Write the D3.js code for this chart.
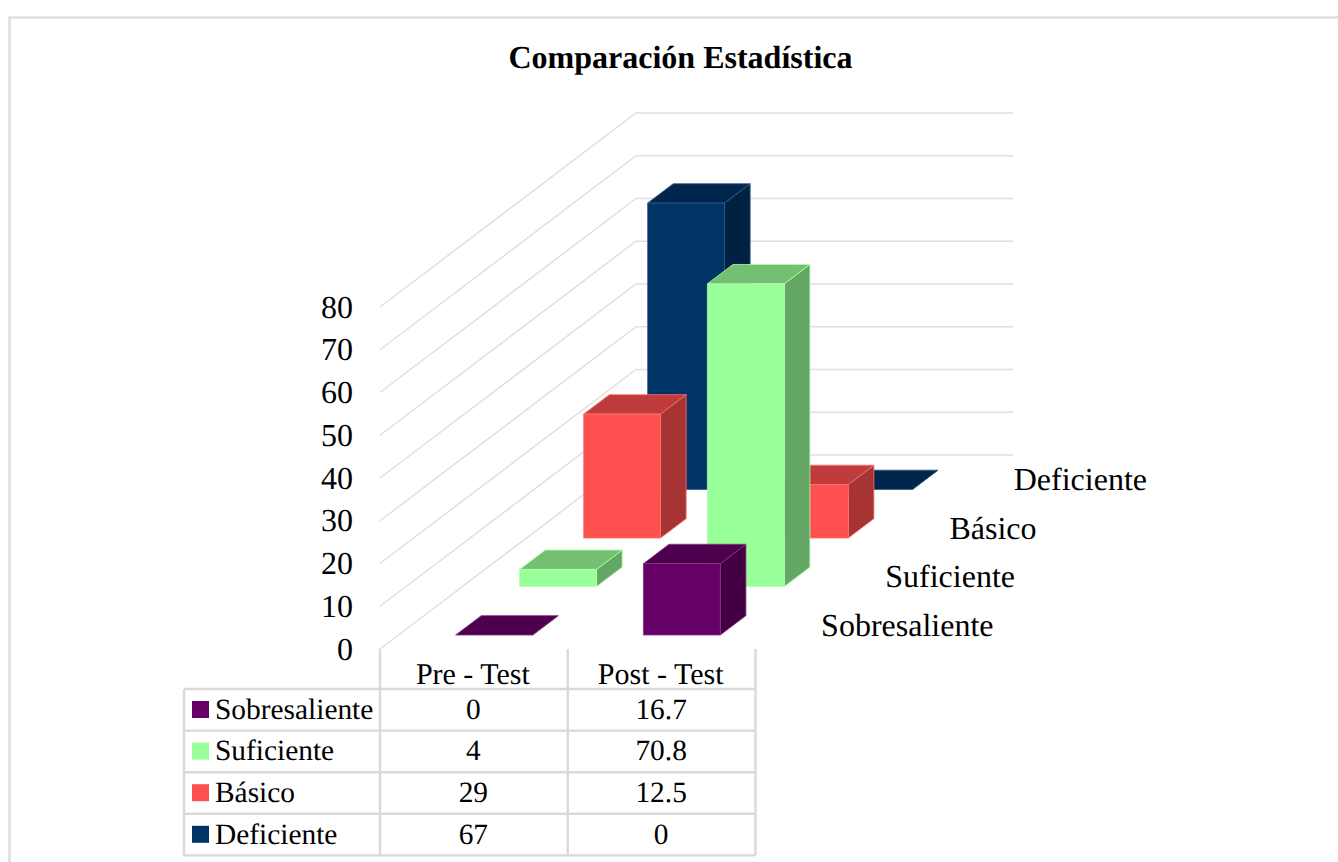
<!DOCTYPE html>
<html><head><meta charset="utf-8">
<script src="https://cdn.jsdelivr.net/npm/d3@7/dist/d3.min.js"></script>
<style>html,body{margin:0;padding:0;background:#fff}svg{display:block}text{font-family:"Liberation Serif",serif;fill:#000;text-rendering:geometricPrecision}</style>
</head><body><svg id="c" width="1338" height="862"></svg>
<script>
const title = "Comparación Estadística";
const groups = ["Pre - Test", "Post - Test"];
const seriesNames = ["Sobresaliente", "Suficiente", "Básico", "Deficiente"];
const preValues = [0, 4, 29, 67];
const postValues = [16.7, 70.8, 12.5, 0];
const colors = ["#660066", "#99ff99", "#ff5050", "#003366"];
const yTicks = [0, 10, 20, 30, 40, 50, 60, 70, 80];

const svg = d3.select("#c");
const grey = "#d9d9d9";
const x0 = 380, x1 = 755.5, floorY = 649;
const depthX = 256, depthY = 194, backRight = 1013;

const x = d3.scaleBand().domain(groups).range([x0 + 1.8, x1 + 1.8]).paddingInner(0.5904).paddingOuter(0.2952);
const xCell = d3.scaleBand().domain(groups).range([x0, x1]);
const z = d3.scaleBand().domain(seriesNames).range([-0.003, 0.997]).paddingInner(0.6).paddingOuter(0.3);
const y = d3.scaleLinear().domain([0, 80]).range([0, 342]);
const P = (px, v, d) => [px + d * depthX, floorY - d * depthY - y(v)];
const poly = pts => pts.map(p => p.join(",")).join(" ");

svg.append("path").attr("d", "M9.5,862V17.5H1338").attr("fill", "none").attr("stroke", "#dedede").attr("stroke-width", 2.5);

svg.append("text").attr("x", 680.5).attr("y", 68).attr("text-anchor", "middle")
  .attr("font-size", 32).attr("font-weight", "bold").text(title);

const grid = svg.append("g").attr("stroke", "#e0e0e0").attr("stroke-width", 1.5).attr("fill", "none");
yTicks.forEach(t => {
  const a = P(x0, t, 0), b = P(x0, t, 1);
  grid.append("polyline").attr("points", poly([a, b, [backRight, b[1]]]));
});

svg.append("g").selectAll("text").data(yTicks).join("text")
  .attr("x", 353).attr("y", t => P(x0, t, 0)[1] + 10.7).attr("text-anchor", "end")
  .attr("font-size", 32).text(d => d);

const rows = seriesNames.map((s, i) => ({ s, i })).reverse();
const barsG = svg.append("g");
rows.forEach(({ s, i }) => {
  groups.forEach((g, gi) => {
    const v = (gi === 0 ? preValues : postValues)[i];
    const l = x(g), r = l + x.bandwidth();
    const d0 = z(s), d1 = d0 + z.bandwidth();
    const c = d3.color(colors[i]);
    const bar = barsG.append("g").attr("stroke-width", 0.8).attr("stroke-linejoin", "round");
    const edge = d3.interpolateRgb(colors[i], "#fff")(0.2);
    bar.append("polygon").attr("points", poly([P(r, 0, d0), P(r, 0, d1), P(r, v, d1), P(r, v, d0)]))
      .attr("fill", c.darker(1.2)).attr("stroke", edge);
    bar.append("polygon").attr("points", poly([P(l, v, d0), P(r, v, d0), P(r, v, d1), P(l, v, d1)]))
      .attr("fill", c.darker(0.8)).attr("stroke", edge);
    if (v > 0) bar.append("polygon").attr("points", poly([P(l, 0, d0), P(r, 0, d0), P(r, v, d0), P(l, v, d0)]))
      .attr("fill", colors[i]).attr("stroke", edge);
  });
});

const depthLabelX = [993.5, 1015, 1036.5, 1147];
svg.append("g").selectAll("text").data(seriesNames).join("text")
  .attr("x", (s, i) => depthLabelX[i]).attr("y", (s, i) => 636 - 48.7 * i).attr("text-anchor", "end")
  .attr("font-size", 32).text(d => d);

const tableLeft = 184, tableTop = 689, rowH = 41.6;
const tb = svg.append("g").attr("stroke", grey).attr("stroke-width", 2.4);
seriesNames.concat(["end"]).forEach((_, i) => {
  const yy = tableTop + i * rowH;
  tb.append("line").attr("x1", tableLeft).attr("x2", x1).attr("y1", yy).attr("y2", yy);
});
tb.append("line").attr("x1", tableLeft).attr("x2", tableLeft).attr("y1", tableTop).attr("y2", tableTop + 4 * rowH);
[x0, x0 + xCell.bandwidth(), x1].forEach(vx => {
  tb.append("line").attr("x1", vx).attr("x2", vx).attr("y1", floorY).attr("y2", tableTop + 4 * rowH);
});
svg.append("g").selectAll("text").data(groups).join("text")
  .attr("x", g => xCell(g) + xCell.bandwidth() / 2 - 1).attr("y", 683.5)
  .attr("text-anchor", "middle").attr("font-size", 30).text(d => d);
seriesNames.forEach((s, i) => {
  const base = tableTop + i * rowH + 29.8;
  svg.append("rect").attr("x", 192).attr("y", tableTop + i * rowH + 12).attr("width", 17).attr("height", 17)
    .attr("fill", colors[i]);
  svg.append("text").attr("x", 215).attr("y", base).attr("font-size", 29.4).text(s);
  [preValues[i], postValues[i]].forEach((v, gi) => {
    svg.append("text").attr("x", xCell(groups[gi]) + xCell.bandwidth() / 2 - 0.5).attr("y", base)
      .attr("text-anchor", "middle").attr("font-size", 29.4).text(v);
  });
});
</script></body></html>
